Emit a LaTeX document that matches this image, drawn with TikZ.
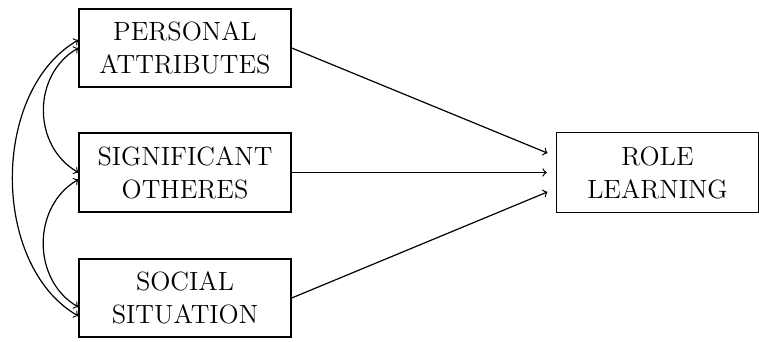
\documentclass[tikz,border=0pt]{standalone}
\usetikzlibrary{positioning}
\tikzset{
  caixa/.style={draw, line width=0.7pt, align=center, inner sep=0pt,
    font=\fontsize{13.2}{16.5}\selectfont},
  seta/.style={->, line width=0.6pt},
  setadupla/.style={<->, line width=0.6pt}
}
\begin{document}
\begin{tikzpicture}[x=0.5pt,y=0.5pt]  %Inicio do diagrama, 1 px = 0.5pt
  \useasboundingbox (0,0) rectangle (759,-342);
					%Caixas
  \node[caixa, minimum width=106pt, minimum height=39pt] (pa) at (185,-48) {PERSONAL\\ATTRIBUTES};
  \node[caixa, minimum width=106pt, minimum height=39.5pt] (so) at (185,-172.5) {SIGNIFICANT\\OTHERES};
  \node[caixa, minimum width=106pt, minimum height=39pt] (ss) at (185,-298) {SOCIAL\\SITUATION};
  \node[caixa, minimum width=101pt, minimum height=40pt] (rl) at (657.5,-172.5) {ROLE\\LEARNING};
					%Setas para ROLE LEARNING
  \draw[seta, shorten >=4.5pt] (pa.east) -- ([yshift=8pt]rl.west);
  \draw[seta, shorten >=4.5pt] (so.east) -- (rl.west);
  \draw[seta, shorten >=4.5pt] (ss.east) -- ([yshift=-8pt]rl.west);
					%Correlacoes (arcos a esquerda)
  \draw[setadupla] ([yshift=4pt]pa.west) to[bend right=60, looseness=0.94] ([yshift=-9pt]ss.west); %Arco externo
  \draw[setadupla] (pa.west) to[bend right=60, looseness=1.1] (so.west);
  \draw[setadupla] ([yshift=-3.5pt]so.west) to[bend right=60, looseness=1.08] ([yshift=-4.5pt]ss.west);
\end{tikzpicture}
\end{document}
